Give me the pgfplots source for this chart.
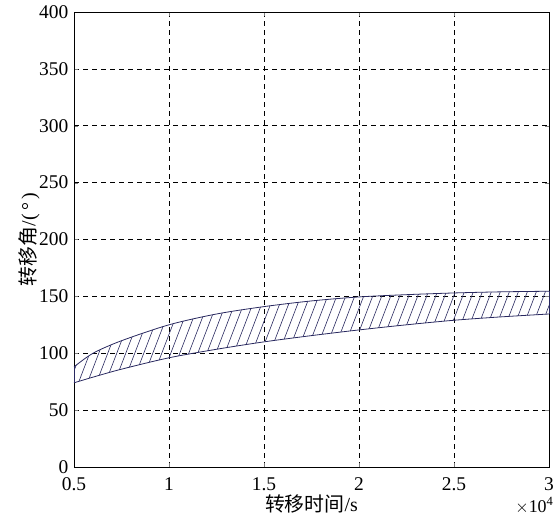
\documentclass[border=0pt]{standalone}
\usepackage{pgfplots}
\pgfplotsset{compat=1.18}
\usepgfplotslibrary{fillbetween}
\usetikzlibrary{patterns}
\usepackage{fontspec}
\setmainfont{Liberation Serif}
\newfontfamily\cjk{Noto Sans CJK SC}
\definecolor{bandcol}{RGB}{40,40,95}
% hatch lines at ~69 deg, horizontal spacing 9bp
\pgfdeclarepatternformonly{myhatch}{\pgfqpoint{-1bp}{-1bp}}{\pgfqpoint{10bp}{24.45bp}}{\pgfqpoint{9bp}{23.45bp}}{%
  \pgfsetlinewidth{0.6pt}%
  \pgfpathmoveto{\pgfqpoint{0bp}{0bp}}%
  \pgfpathlineto{\pgfqpoint{9bp}{23.45bp}}%
  \pgfusepath{stroke}%
}
\begin{document}
\begin{tikzpicture}
\begin{axis}[
  anchor=south west, at={(0,0)},
  scale only axis, width=475bp, height=455bp,
  xmin=0.5, xmax=3, ymin=0, ymax=400,
  xtick={0.5,1,1.5,2,2.5,3},
  xticklabels={0.5,1,1.5,2,2.5,3},
  ytick={0,50,...,400},
  /pgf/number format/assume math mode=true,
  tick label style={font=\fontsize{19.5}{21}\selectfont, inner sep=1bp},
  xticklabel style={yshift=-9.5bp},
  yticklabel style={xshift=-4.5bp},
  tick align=inside, major tick length=4bp,
  grid=major,
  major grid style={black, dash pattern=on 5bp off 4bp, line width=0.6pt},
  axis line style={black, line width=0.8pt},
  xlabel={{\cjk 转移时间}/s},
  ylabel={{\cjk 转移角}/(\,°\,)},
  label style={font=\fontsize{20}{22}\selectfont},
  xlabel style={inner sep=1bp, yshift=-1.5bp},
  ylabel style={yshift=-5bp},
  clip=false,
]
\addplot[name path=upper, bandcol, line width=0.8pt, smooth] coordinates {
(0.5,88) (0.6,100) (0.75,111) (1,125) (1.25,134.5) (1.5,141) (1.75,146) (2,149.5) (2.25,151.5) (2.5,153) (2.75,154) (3,154.5)};
\addplot[name path=lower, bandcol, line width=0.8pt, smooth] coordinates {
(0.5,74) (0.6,79) (0.75,86) (1,96) (1.25,103.5) (1.5,110) (1.75,115.5) (2,120.5) (2.25,125) (2.5,129) (2.75,132) (3,134.5)};
\addplot[pattern=myhatch, pattern color=bandcol, draw=none] fill between[of=upper and lower];
\draw[bandcol, line width=0.8pt] (axis cs:0.5,74) -- (axis cs:0.5,88);
\draw[bandcol, line width=0.8pt] (axis cs:3,134.5) -- (axis cs:3,154.5);
\node[font=\fontsize{18}{20}\selectfont, anchor=north east] at ([shift={(8bp,-27bp)}]rel axis cs:1,0) {$\times$10\textsuperscript{4}};
\end{axis}
\useasboundingbox (-74bp,-49bp) rectangle (485bp,467bp);
\end{tikzpicture}
\end{document}
